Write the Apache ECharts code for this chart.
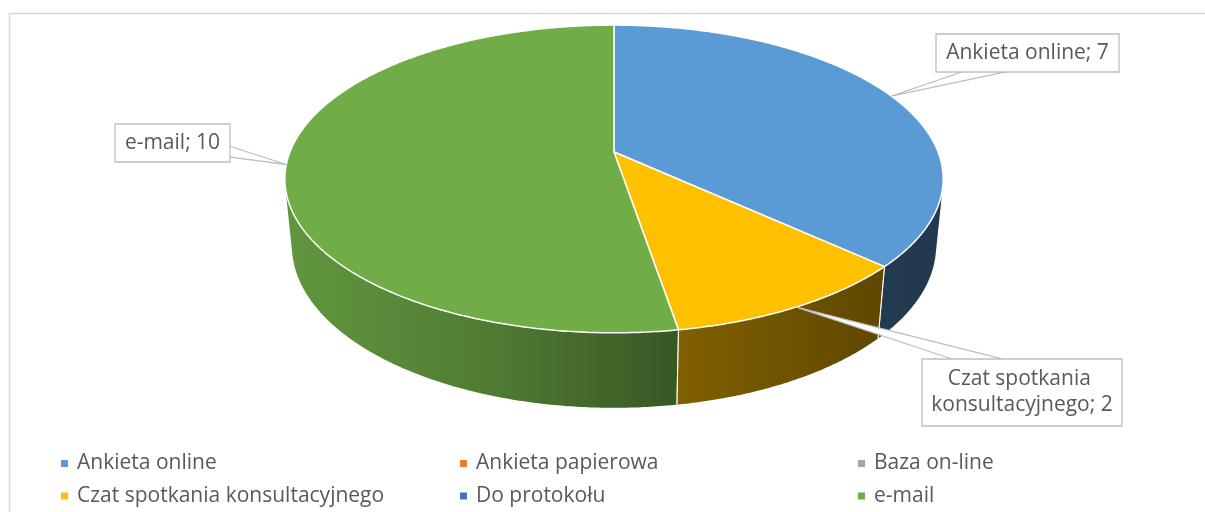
<!DOCTYPE html>
<html><head><meta charset="utf-8">
<script src="https://cdn.jsdelivr.net/npm/echarts@6/dist/echarts.min.js"></script>
<style>html,body{margin:0;padding:0;background:#fff}#c{width:1205px;height:512px}</style>
</head><body><div id="c"></div>
<script>
// ---- data ----
const categories = ['Ankieta online', 'Ankieta papierowa', 'Baza on-line', 'Czat spotkania konsultacyjnego', 'Do protokołu', 'e-mail'];
const values = [7, 0, 0, 2, 0, 10];
const colors = ['#5B9BD5', '#ED7D31', '#A5A5A5', '#FFC000', '#4472C4', '#70AD47'];

// ---- layout (3D projection + callout boxes + legend grid) ----
const P = { cx: 614, cy: 152, f: 1643, D: 5.07, alpha: 27.4 * Math.PI / 180, h: 0.234 };
const FONT = '"Open Sans", sans-serif';
const TEXT_COLOR = '#595959';
const calloutLayout = {
  0: { box: [936, 34, 183, 38], base: [[965, 71], [1010, 71]] },
  5: { box: [115, 124, 115, 38], base: [[229, 146], [229, 157]] },
  3: { box: [922, 359, 200, 67], base: [[955, 360], [1007, 360]] }
};
const legendCellLeft = [61, 460, 858];
const legendRowCenter = [463, 495.5];

const total = values.reduce((a, b) => a + b, 0);
const starts = [];
let acc = 0;
values.forEach(v => { starts.push(acc / total * 360); acc += v; });

function proj(deg, Y, r) {
  const t = deg * Math.PI / 180;
  const X = r * Math.sin(t), Z = r * Math.cos(t);
  const ca = Math.cos(P.alpha), sa = Math.sin(P.alpha);
  const u = Y * ca + Z * sa;
  const depth = P.D + Z * ca - Y * sa;
  return [P.cx + P.f * X / depth, P.cy - P.f * u / depth];
}
function arc(a, b, Y) {
  const pts = [];
  const n = Math.max(2, Math.ceil(Math.abs(b - a) / 0.5));
  for (let i = 0; i <= n; i++) pts.push(proj(a + (b - a) * i / n, Y, 1));
  return pts;
}
function shade(hex, k) {
  const n = parseInt(hex.slice(1), 16);
  const r = Math.round(((n >> 16) & 255) * k), g = Math.round(((n >> 8) & 255) * k), b = Math.round((n & 255) * k);
  return 'rgb(' + r + ',' + g + ',' + b + ')';
}
const visLimit = Math.acos(-1 / (P.D * Math.cos(P.alpha))) * 180 / Math.PI;
const visFrom = visLimit, visTo = 360 - visLimit;

function sliceRender(idx) {
  return function () {
    const v = values[idx];
    const children = [];
    if (!v) return { type: 'group', children };
    const a = starts[idx], b = a + v / total * 360;
    const color = colors[idx];
    const wa = Math.max(a, visFrom), wb = Math.min(b, visTo);
    if (wb > wa) {
      const top = arc(wa, wb, 0);
      const bot = arc(wb, wa, -P.h);
      const x0 = P.cx - 330, x1 = P.cx + 330;
      const grad = new echarts.graphic.LinearGradient(x0, 0, x1, 0, [
        { offset: 0, color: shade(color, 0.87) },
        { offset: 0.3, color: shade(color, 0.72) },
        { offset: 0.6, color: shade(color, 0.5) },
        { offset: 0.88, color: shade(color, 0.38) },
        { offset: 1, color: shade(color, 0.37) }
      ], true);
      children.push({ type: 'polygon', shape: { points: top.concat(bot) }, style: { fill: grad }, z2: 1 });
      [a, b].forEach(t => {
        if (t > visFrom && t < visTo) {
          const p1 = proj(t, 0, 1), p2 = proj(t, -P.h, 1);
          children.push({ type: 'line', shape: { x1: p1[0], y1: p1[1], x2: p2[0], y2: p2[1] }, style: { stroke: 'rgba(255,255,255,0.85)', lineWidth: 1 }, z2: 2 });
        }
      });
    }
    const pts = [proj(0, 0, 0)].concat(arc(a, b, 0));
    children.push({ type: 'polygon', shape: { points: pts }, style: { fill: color, stroke: '#ffffff', lineWidth: 1.5, lineJoin: 'round' }, z2: 3 });
    return { type: 'group', children };
  };
}

function labelRender() {
  const children = [];
  values.forEach((v, idx) => {
    const lay = calloutLayout[idx];
    if (!v || !lay) return;
    const mid = starts[idx] + v / total * 180;
    const tip = proj(mid, 0, 1);
    const [bx, by, bw, bh] = lay.box;
    children.push({ type: 'polygon', shape: { points: [lay.base[0], tip, lay.base[1]] },
      style: { fill: '#ffffff', stroke: '#BFBFBF', lineWidth: 1.3 }, z2: 1 });
    children.push({ type: 'rect', shape: { x: bx, y: by, width: bw, height: bh },
      style: { fill: '#ffffff', stroke: '#BFBFBF', lineWidth: 1.3 }, z2: 2 });
    children.push({ type: 'text', z2: 3, style: {
      text: categories[idx] + '; ' + v, x: bx + bw / 2, y: by + bh / 2,
      align: 'center', verticalAlign: 'middle', fill: TEXT_COLOR,
      fontSize: 21, fontFamily: FONT, width: bw - 4, overflow: 'break', lineHeight: 26 } });
  });
  return { type: 'group', children };
}

const series = categories.map((name, i) => ({
  type: 'custom', name, coordinateSystem: 'none', z: 2,
  itemStyle: { color: colors[i] },
  renderItem: sliceRender(i), data: [[values[i]]], silent: true
}));
series.push({ type: 'custom', name: 'labels', coordinateSystem: 'none', z: 5, renderItem: labelRender, data: [[0]], silent: true });

const legends = categories.map((name, i) => ({
  data: [name],
  left: legendCellLeft[i % 3],
  top: legendRowCenter[Math.floor(i / 3)] - 10,
  padding: 0,
  itemWidth: 7, itemHeight: 7, icon: 'rect', selectedMode: false,
  textStyle: { fontSize: 21, color: TEXT_COLOR, fontFamily: FONT, lineHeight: 20, padding: [0, 0, 0, 4] }
}));

const chart = echarts.init(document.getElementById('c'), null, { renderer: 'canvas' });
chart.setOption({
  animation: false,
  backgroundColor: '#ffffff',
  graphic: [{ type: 'rect', shape: { x: 9.5, y: 13.5, width: 1400, height: 700 }, style: { fill: null, stroke: '#D9D9D9', lineWidth: 1.5 }, silent: true }],
  legend: legends,
  series
});
</script></body></html>
